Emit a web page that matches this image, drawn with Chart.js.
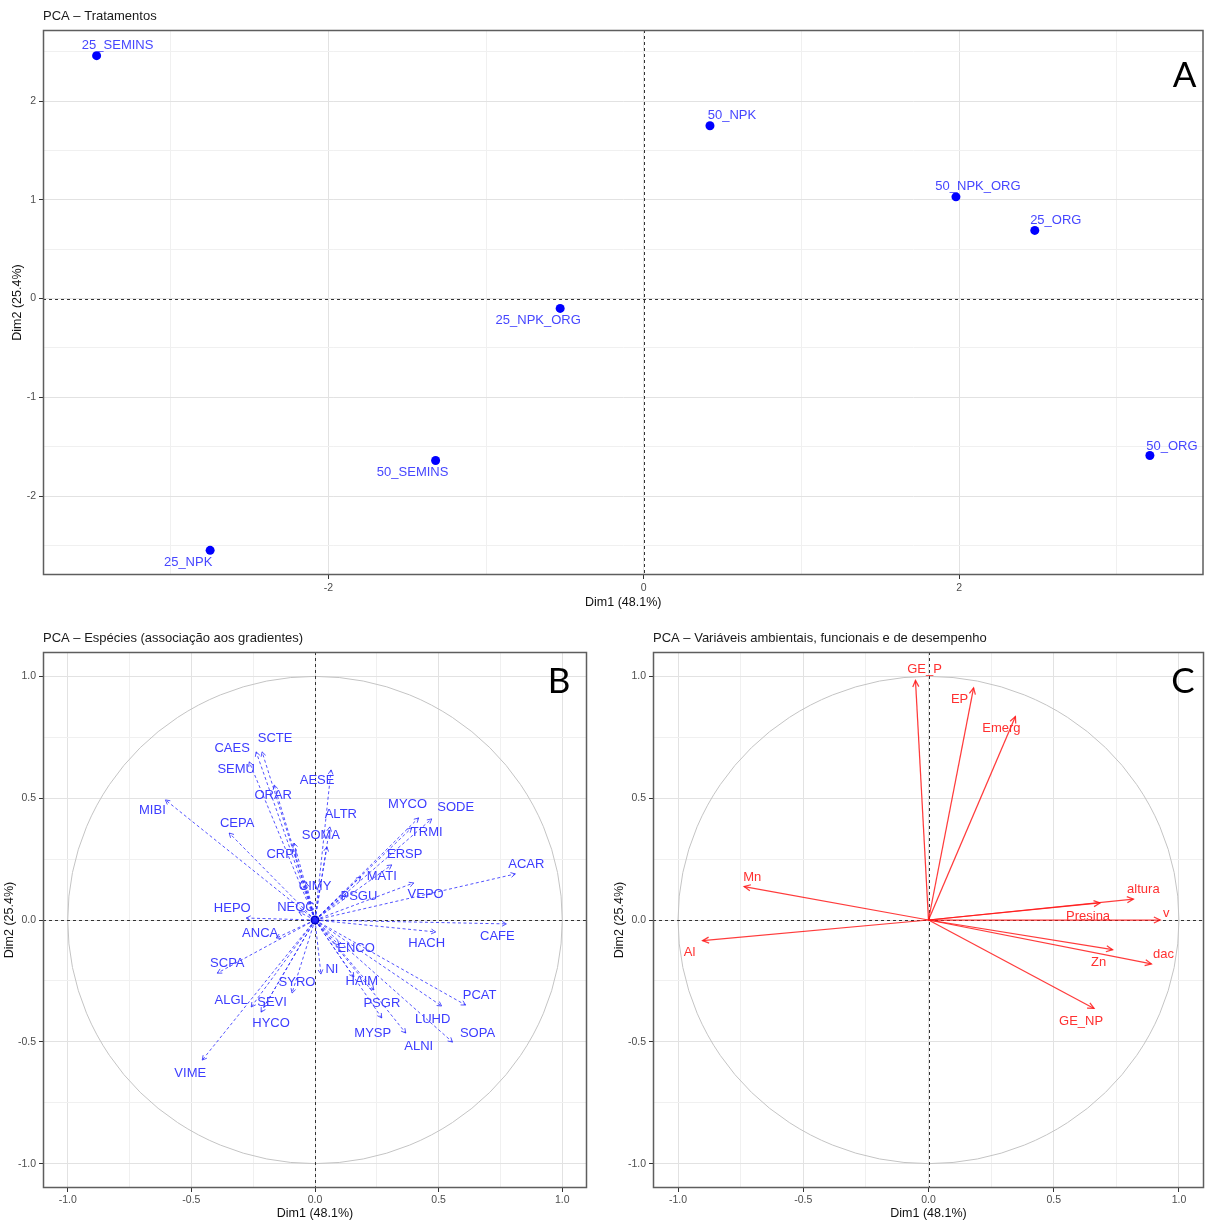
<!DOCTYPE html>
<html><head><meta charset="utf-8">
<script src="https://cdn.jsdelivr.net/npm/chart.js@4.4.1/dist/chart.umd.min.js"></script>
<style>
html,body{margin:0;padding:0;background:#fff;}
body{width:1208px;height:1223px;position:relative;overflow:hidden;}
.p{position:absolute;}
</style></head><body>
<div class="p" style="left:0;top:0;width:1208px;height:615px"><canvas id="cA" width="1208" height="615"></canvas></div>
<div class="p" style="left:0;top:620px;width:604px;height:603px"><canvas id="cB" width="604" height="603"></canvas></div>
<div class="p" style="left:610px;top:620px;width:598px;height:603px"><canvas id="cC" width="598" height="603"></canvas></div>
<script>
// ---------- DATA ----------
const dimXTitle = 'Dim1 (48.1%)';
const dimYTitle = 'Dim2 (25.4%)';

// Panel A: treatments
const treatNames = ['25_SEMINS','50_NPK','50_NPK_ORG','25_ORG','25_NPK_ORG','50_SEMINS','25_NPK','50_ORG'];
const treatDim1  = [-3.47, 0.42, 1.98, 2.48, -0.53, -1.32, -2.75, 3.21];
const treatDim2  = [ 2.46, 1.75, 1.03, 0.69, -0.10, -1.64, -2.55, -1.59];

// Panel B: species
const speciesNames = ['SCTE','CAES','SEMU','MIBI','CEPA','ORAR','CRPI','HEPO','NEOC','ANCA',
  'AESE','ALTR','SOMA','MYCO','SODE','TRMI','ERSP','MATI','PSGU','VEPO','ACAR','CIMY',
  'CAFE','HACH','ENCO','NI','HAIM','PSGR','MYSP','ALNI','LUHD','SOPA','PCAT',
  'SCPA','SYRO','ALGL','SEVI','HYCO','VIME'];
const speciesDim1 = [-0.214,-0.238,-0.266,-0.605,-0.347,-0.165,-0.085,-0.278,-0.065,-0.157,
  0.065,0.060,0.048,0.419,0.472,0.391,0.310,0.185,0.125,0.399,0.810,-0.036,
  0.774,0.488,0.097,0.024,0.157,0.238,0.270,0.367,0.512,0.556,0.609,
  -0.395,-0.093,-0.258,-0.206,-0.218,-0.456];
const speciesDim2 = [0.690,0.690,0.649,0.493,0.357,0.554,0.316,0.008,0.033,-0.074,
  0.616,0.382,0.300,0.419,0.415,0.378,0.226,0.177,0.103,0.152,0.189,0.152,
  -0.016,-0.049,-0.103,-0.222,-0.234,-0.287,-0.402,-0.464,-0.353,-0.501,-0.349,
  -0.218,-0.300,-0.357,-0.357,-0.378,-0.575];

// Panel C: environmental / functional / performance variables
const varNames = ['GE_P','EP','Emerg','Mn','altura','Presina','v','Al','Zn','dac','GE_NP'];
const varDim1  = [-0.052, 0.180, 0.347, -0.736, 0.818, 0.685, 0.925, -0.902, 0.735, 0.890, 0.661];
const varDim2  = [ 0.983, 0.953, 0.835,  0.137, 0.086, 0.070, 0.000, -0.085, -0.122, -0.180, -0.363];

// tick labels
const ticksA_x = [-2, 0, 2];
const ticksA_y = [-2, -1, 0, 1, 2];
const ticksCircle = [-1, -0.5, 0, 0.5, 1];

// ---------- LABEL PLACEMENT (pixel offsets from mark) ----------
const treatLabelOffset = {
  '25_SEMINS':[21,-10], '50_NPK':[22,-10], '50_NPK_ORG':[22,-10], '25_ORG':[21,-10],
  '25_NPK_ORG':[-22,12], '50_SEMINS':[-23,12], '25_NPK':[-22,12], '50_ORG':[22,-9]
};
const speciesLabelOffset = {
  SCTE:[13,-13], CAES:[-24,-3], SEMU:[-13,8], MIBI:[-13,11], CEPA:[8,-10], ORAR:[-1,10],
  CRPI:[-12,11], HEPO:[-14,-10], NEOC:[-3,-5], ANCA:[-16,-5], AESE:[-14,11], ALTR:[11,-13],
  SOMA:[-6,-11], MYCO:[-11,-13], SODE:[24,-11], TRMI:[15,5], ERSP:[13,-11], MATI:[21,0],
  PSGU:[13,2], VEPO:[12,11], ACAR:[11,-10], CIMY:[9,3], CAFE:[-9,13], HACH:[-9,11],
  ENCO:[17,3], NI:[11,-5], HAIM:[8,4], PSGR:[8,13], MYSP:[-9,15], ALNI:[13,13],
  LUHD:[-9,13], SOPA:[25,-9], PCAT:[14,-10], SCPA:[10,-10], SYRO:[5,-11], ALGL:[-20,-7],
  SEVI:[8,-5], HYCO:[10,11], VIME:[-12,13]
};
const varLabelOffset = {
  GE_P:[9,-11], EP:[-14,12], Emerg:[-14,12], Mn:[8,-9], altura:[10,-10], Presina:[-12,13],
  v:[6,-7], Al:[-13,12], Zn:[-14,13], dac:[12,-9], GE_NP:[-13,13]
};

// ---------- HELPERS ----------
const FONT = '"Liberation Sans", Arial, Helvetica, sans-serif';
function near(v, arr){ return arr.some(t => Math.abs(t - v) < 1e-6); }

function makeAxis(c){
  return {
    type:'linear', min:c.min, max:c.max, position: c.horizontal ? 'bottom' : 'left',
    ticks:{
      stepSize:c.step, includeBounds:false, autoSkip:false, maxRotation:0, minRotation:0, maxTicksLimit:40,
      font:{family:FONT, size:10.5}, color:'#4d4d4d', padding:c.tickPad,
      callback: v => near(v, c.majors) ? c.fmt(v) : ''
    },
    grid:{
      color: ctx => (ctx.tick && near(ctx.tick.value, c.majors)) ? '#e2e2e2' : '#f0f0f0',
      lineWidth:1, drawTicks:true, tickLength:4, tickWidth:1,
      tickColor: ctx => (ctx.tick && near(ctx.tick.value, c.majors)) ? '#333333' : 'rgba(0,0,0,0)'
    },
    border:{display:false},
    title:{display:true, text:c.title, color:'#111', font:{family:FONT, size:12.5}, padding:c.titlePad},
    afterFit: s => { if (c.horizontal) s.height = c.size; else s.width = c.size; }
  };
}

function drawArrowHead(ctx, p0, p1, len, ang){
  const a = Math.atan2(p1.y - p0.y, p1.x - p0.x);
  ctx.beginPath();
  ctx.moveTo(p1.x - len*Math.cos(a - ang), p1.y - len*Math.sin(a - ang));
  ctx.lineTo(p1.x, p1.y);
  ctx.lineTo(p1.x - len*Math.cos(a + ang), p1.y - len*Math.sin(a + ang));
  ctx.stroke();
}

const panelPlugin = {
  id:'panel',
  beforeDatasetsDraw(chart, args, o){
    const {ctx, chartArea:a, scales:{x, y}} = chart;
    ctx.save();
    if (o.circle){
      const cx = x.getPixelForValue(0), cy = y.getPixelForValue(0);
      const rx = x.getPixelForValue(1) - cx, ry = cy - y.getPixelForValue(1);
      ctx.beginPath(); ctx.ellipse(cx, cy, rx, ry, 0, 0, Math.PI*2);
      ctx.strokeStyle = '#c4c4c4'; ctx.lineWidth = 1; ctx.stroke();
    }
    ctx.setLineDash([3,3]); ctx.strokeStyle = '#333'; ctx.lineWidth = 1;
    const x0 = Math.round(x.getPixelForValue(0)) + 0.5, y0 = Math.round(y.getPixelForValue(0)) + 0.5;
    ctx.beginPath();
    ctx.moveTo(x0, a.top); ctx.lineTo(x0, a.bottom);
    ctx.moveTo(a.left, y0); ctx.lineTo(a.right, y0);
    ctx.stroke();
    ctx.restore();
  },
  afterDatasetsDraw(chart, args, o){
    const {ctx} = chart;
    ctx.save();
    chart.data.datasets.forEach((ds, i) => {
      const meta = chart.getDatasetMeta(i);
      if (ds.arrow){
        ctx.setLineDash([]);
        ctx.strokeStyle = ds.borderColor; ctx.lineWidth = ds.borderWidth || 1;
        drawArrowHead(ctx, meta.data[0], meta.data[1], o.headLen, o.headAng);
      }
      if (ds.pointLabels){
        ctx.font = '13px ' + FONT; ctx.fillStyle = o.labelColor;
        ctx.textAlign = 'center'; ctx.textBaseline = 'middle';
        ds.pointLabels.forEach((name, j) => {
          const p = meta.data[ds.labelIndex !== undefined ? ds.labelIndex : j];
          const off = o.offsets[name] || [0,0];
          ctx.fillText(name, p.x + off[0], p.y + off[1]);
        });
      }
    });
    ctx.restore();
  },
  afterDraw(chart, args, o){
    const {ctx, chartArea:a} = chart;
    ctx.save();
    ctx.strokeStyle = '#5e5e5e'; ctx.lineWidth = 1.5;
    ctx.strokeRect(a.left + 0.5, a.top + 0.5, a.right - a.left - 1, a.bottom - a.top - 1);
    ctx.font = '13px ' + FONT; ctx.fillStyle = '#1a1a1a';
    ctx.textAlign = 'left'; ctx.textBaseline = 'middle';
    ctx.fillText(o.title, a.left, a.top - 14);
    ctx.font = '35px Lato, "Open Sans", sans-serif'; ctx.fillStyle = '#000';
    ctx.textAlign = 'center';
    ctx.fillText(o.letter, a.right + o.letterDx, a.top + o.letterDy);
    ctx.restore();
  }
};

const common = {
  responsive:false, animation:false, events:[],
  plugins:{legend:{display:false}, tooltip:{enabled:false}, title:{display:false}}
};

// ---------- CHART A ----------
new Chart(document.getElementById('cA'), {
  type:'scatter',
  data:{datasets:[{
    data: treatNames.map((n,i)=>({x:treatDim1[i], y:treatDim2[i]})),
    pointRadius:4.5, pointBackgroundColor:'#0000ff', pointBorderColor:'#0000ff', pointBorderWidth:0,
    pointLabels: treatNames
  }]},
  options:Object.assign({}, common, {
    layout:{padding:{top:30, right:4, left:0, bottom:0}},
    scales:{
      x: makeAxis({min:-3.81, max:3.55, step:1, majors:ticksA_x, fmt:v=>String(v), title:dimXTitle,
                   horizontal:true, size:40, tickPad:3, titlePad:{top:0, bottom:4.5}}),
      y: makeAxis({min:-2.80, max:2.72, step:0.5, majors:ticksA_y, fmt:v=>String(v), title:dimYTitle,
                   horizontal:false, size:43, tickPad:3, titlePad:{top:10.5, bottom:0}})
    },
    plugins:Object.assign({}, common.plugins, {
      panel:{title:'PCA – Tratamentos', letter:'A', letterDx:-19, letterDy:46,
             circle:false, labelColor:'#4646ff', offsets:treatLabelOffset, headLen:0, headAng:0}
    })
  }),
  plugins:[panelPlugin]
});

// ---------- CHART B ----------
const dsB = speciesNames.map((n,i)=>({
  data:[{x:0,y:0},{x:speciesDim1[i], y:speciesDim2[i]}],
  showLine:true, borderColor:'rgba(40,40,255,0.8)', borderWidth:1, borderDash:[3,2.5],
  pointRadius:0, arrow:true, pointLabels:[n], labelIndex:1
}));
dsB.push({data:[{x:0,y:0}], pointRadius:4.5, pointBackgroundColor:'#0000cc', pointBorderWidth:0});
new Chart(document.getElementById('cB'), {
  type:'scatter',
  data:{datasets:dsB},
  options:Object.assign({}, common, {
    layout:{padding:{top:32, right:17, left:0, bottom:0}},
    scales:{
      x: makeAxis({min:-1.1, max:1.1, step:0.25, majors:ticksCircle, fmt:v=>v.toFixed(1), title:dimXTitle,
                   horizontal:true, size:35, tickPad:2, titlePad:{top:0, bottom:1.5}}),
      y: makeAxis({min:-1.1, max:1.1, step:0.25, majors:ticksCircle, fmt:v=>v.toFixed(1), title:dimYTitle,
                   horizontal:false, size:43, tickPad:3, titlePad:{top:2.5, bottom:0}})
    },
    plugins:Object.assign({}, common.plugins, {
      panel:{title:'PCA – Espécies (associação aos gradientes)', letter:'B', letterDx:-28, letterDy:30,
             circle:true, labelColor:'#3c3cff', offsets:speciesLabelOffset, headLen:5, headAng:0.5}
    })
  }),
  plugins:[panelPlugin]
});

// ---------- CHART C ----------
const dsC = varNames.map((n,i)=>({
  data:[{x:0,y:0},{x:varDim1[i], y:varDim2[i]}],
  showLine:true, borderColor:'rgba(255,25,25,0.85)', borderWidth:1.25,
  pointRadius:0, arrow:true, pointLabels:[n], labelIndex:1
}));
new Chart(document.getElementById('cC'), {
  type:'scatter',
  data:{datasets:dsC},
  options:Object.assign({}, common, {
    layout:{padding:{top:32, right:4, left:0, bottom:0}},
    scales:{
      x: makeAxis({min:-1.1, max:1.1, step:0.25, majors:ticksCircle, fmt:v=>v.toFixed(1), title:dimXTitle,
                   horizontal:true, size:35, tickPad:2, titlePad:{top:0, bottom:1.5}}),
      y: makeAxis({min:-1.1, max:1.1, step:0.25, majors:ticksCircle, fmt:v=>v.toFixed(1), title:dimYTitle,
                   horizontal:false, size:43, tickPad:3, titlePad:{top:2.5, bottom:0}})
    },
    plugins:Object.assign({}, common.plugins, {
      panel:{title:'PCA – Variáveis ambientais, funcionais e de desempenho', letter:'C', letterDx:-21, letterDy:30,
             circle:true, labelColor:'#ff3030', offsets:varLabelOffset, headLen:7, headAng:0.45}
    })
  }),
  plugins:[panelPlugin]
});
</script>
</body></html>
